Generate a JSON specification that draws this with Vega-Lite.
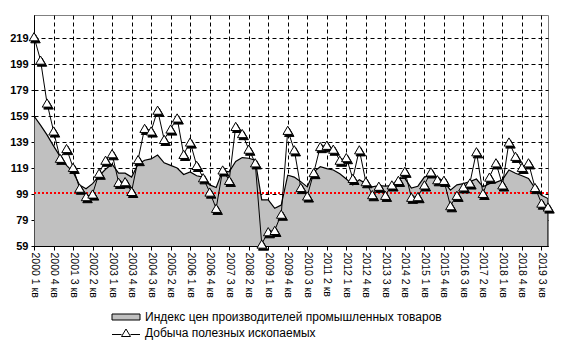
{
  "$schema": "https://vega.github.io/schema/vega-lite/v6.json",
  "width": 514,
  "height": 231,
  "autosize": {"type": "none"},
  "padding": {"left": 34, "top": 15, "right": 15, "bottom": 108},
  "background": "white",
  "config": {
    "view": {"stroke": "#808080", "strokeWidth": 1},
    "font": "Liberation Sans",
    "axis": {"labelFont": "Liberation Sans", "labelColor": "black", "domainColor": "black", "tickColor": "black", "gridColor": "black", "gridOpacity": 1, "gridDash": [4, 3], "gridWidth": 1, "title": null, "labelOverlap": false},
    "axisY": {"labelFontSize": 11, "labelFontWeight": "bold", "labelOverlap": false, "tickSize": 3, "labelPadding": 3, "labelSeparation": 0},
    "axisX": {"labelFontSize": 10.5, "labelOverlap": false, "labelPadding": 2, "tickSize": 4}
  },
  "data": {
    "values": [
      {"q": "2000 1 кв", "ppi": 159, "mining": 220},
      {"q": "2000 2 кв", "ppi": 152, "mining": 202},
      {"q": "2000 3 кв", "ppi": 144.5, "mining": 169},
      {"q": "2000 4 кв", "ppi": 136, "mining": 147.5},
      {"q": "2001 1 кв", "ppi": 128, "mining": 126.5},
      {"q": "2001 2 кв", "ppi": 121, "mining": 134},
      {"q": "2001 3 кв", "ppi": 116, "mining": 119.5},
      {"q": "2001 4 кв", "ppi": 106, "mining": 103.5},
      {"q": "2002 1 кв", "ppi": 103, "mining": 97},
      {"q": "2002 2 кв", "ppi": 107, "mining": 99},
      {"q": "2002 3 кв", "ppi": 113, "mining": 115},
      {"q": "2002 4 кв", "ppi": 118, "mining": 125},
      {"q": "2003 1 кв", "ppi": 122, "mining": 130},
      {"q": "2003 2 кв", "ppi": 115, "mining": 108},
      {"q": "2003 3 кв", "ppi": 115, "mining": 108.5},
      {"q": "2003 4 кв", "ppi": 112, "mining": 101},
      {"q": "2004 1 кв", "ppi": 122, "mining": 125.5},
      {"q": "2004 2 кв", "ppi": 125, "mining": 149.5},
      {"q": "2004 3 кв", "ppi": 126, "mining": 147.5},
      {"q": "2004 4 кв", "ppi": 129, "mining": 163.5},
      {"q": "2005 1 кв", "ppi": 123, "mining": 141},
      {"q": "2005 2 кв", "ppi": 121, "mining": 149},
      {"q": "2005 3 кв", "ppi": 119, "mining": 157.5},
      {"q": "2005 4 кв", "ppi": 114, "mining": 129.5},
      {"q": "2006 1 кв", "ppi": 116, "mining": 139},
      {"q": "2006 2 кв", "ppi": 113, "mining": 121},
      {"q": "2006 3 кв", "ppi": 112, "mining": 111.5},
      {"q": "2006 4 кв", "ppi": 106, "mining": 100.5},
      {"q": "2007 1 кв", "ppi": 104, "mining": 88},
      {"q": "2007 2 кв", "ppi": 117, "mining": 117.5},
      {"q": "2007 3 кв", "ppi": 116, "mining": 109.5},
      {"q": "2007 4 кв", "ppi": 124, "mining": 151},
      {"q": "2008 1 кв", "ppi": 127, "mining": 145.5},
      {"q": "2008 2 кв", "ppi": 126.5, "mining": 133.5},
      {"q": "2008 3 кв", "ppi": 125, "mining": 123},
      {"q": "2008 4 кв", "ppi": 94.5, "mining": 60.5},
      {"q": "2009 1 кв", "ppi": 94.5, "mining": 70},
      {"q": "2009 2 кв", "ppi": 88, "mining": 71},
      {"q": "2009 3 кв", "ppi": 90.5, "mining": 83.5},
      {"q": "2009 4 кв", "ppi": 113.5, "mining": 148},
      {"q": "2010 1 кв", "ppi": 112, "mining": 133},
      {"q": "2010 2 кв", "ppi": 108.5, "mining": 104},
      {"q": "2010 3 кв", "ppi": 104.5, "mining": 97.5},
      {"q": "2010 4 кв", "ppi": 116, "mining": 115.5},
      {"q": "2011 1 кв", "ppi": 120, "mining": 135.5},
      {"q": "2011 2 кв", "ppi": 118.5, "mining": 136.5},
      {"q": "2011 3 кв", "ppi": 117.5, "mining": 133.5},
      {"q": "2011 4 кв", "ppi": 114.5, "mining": 125},
      {"q": "2012 1 кв", "ppi": 110.5, "mining": 127},
      {"q": "2012 2 кв", "ppi": 106, "mining": 111},
      {"q": "2012 3 кв", "ppi": 110, "mining": 133},
      {"q": "2012 4 кв", "ppi": 107, "mining": 108.5},
      {"q": "2013 1 кв", "ppi": 104.5, "mining": 98.5},
      {"q": "2013 2 кв", "ppi": 105.5, "mining": 105},
      {"q": "2013 3 кв", "ppi": 105, "mining": 98},
      {"q": "2013 4 кв", "ppi": 105.5, "mining": 106},
      {"q": "2014 1 кв", "ppi": 111, "mining": 109.5},
      {"q": "2014 2 кв", "ppi": 111, "mining": 116.5},
      {"q": "2014 3 кв", "ppi": 103.5, "mining": 96.5},
      {"q": "2014 4 кв", "ppi": 105, "mining": 97},
      {"q": "2015 1 кв", "ppi": 112, "mining": 106},
      {"q": "2015 2 кв", "ppi": 113.5, "mining": 116},
      {"q": "2015 3 кв", "ppi": 112, "mining": 110},
      {"q": "2015 4 кв", "ppi": 108.5, "mining": 109.5},
      {"q": "2016 1 кв", "ppi": 102, "mining": 90},
      {"q": "2016 2 кв", "ppi": 106, "mining": 98},
      {"q": "2016 3 кв", "ppi": 107, "mining": 104.5},
      {"q": "2016 4 кв", "ppi": 108.5, "mining": 107.5},
      {"q": "2017 1 кв", "ppi": 110.5, "mining": 131.5},
      {"q": "2017 2 кв", "ppi": 104.5, "mining": 99.5},
      {"q": "2017 3 кв", "ppi": 107, "mining": 112},
      {"q": "2017 4 кв", "ppi": 108, "mining": 123},
      {"q": "2018 1 кв", "ppi": 110, "mining": 106},
      {"q": "2018 2 кв", "ppi": 117.5, "mining": 139},
      {"q": "2018 3 кв", "ppi": 115, "mining": 128},
      {"q": "2018 4 кв", "ppi": 113, "mining": 119.5},
      {"q": "2019 1 кв", "ppi": 111, "mining": 123},
      {"q": "2019 2 кв", "ppi": 103.5, "mining": 104},
      {"q": "2019 3 кв", "ppi": 98, "mining": 92},
      {"q": "2019 4 кв", "ppi": 95.5, "mining": 89}
    ]
  },
  "layer": [
    {
      "mark": {"type": "area", "stroke": "black", "strokeWidth": 1.2, "clip": true, "fillOpacity": 1},
      "encoding": {
        "x": {
          "field": "q", "type": "ordinal", "sort": null,
          "scale": {"type": "point", "padding": 0},
          "axis": {
            "values": ["2000 1 кв", "2000 4 кв", "2001 3 кв", "2002 2 кв", "2003 1 кв", "2003 4 кв", "2004 3 кв", "2005 2 кв", "2006 1 кв", "2006 4 кв", "2007 3 кв", "2008 2 кв", "2009 1 кв", "2009 4 кв", "2010 3 кв", "2011 2 кв", "2012 1 кв", "2012 4 кв", "2013 3 кв", "2014 2 кв", "2015 1 кв", "2015 4 кв", "2016 3 кв", "2017 2 кв", "2018 1 кв", "2018 4 кв", "2019 3 кв"],
            "labelAngle": 90, "grid": true, "labelOverlap": false
          }
        },
        "y": {
          "field": "ppi", "type": "quantitative",
          "scale": {"domain": [59, 236.7], "nice": false, "zero": false},
          "axis": {"values": [59, 79, 99, 119, 139, 159, 179, 199, 219], "tickCount": 50, "grid": true, "labelOverlap": false}
        },
        "fill": {
          "datum": "Индекс цен производителей промышленных товаров",
          "type": "nominal",
          "scale": {"range": ["#C0C0C0"]},
          "legend": {
            "orient": "none", "legendX": 86, "legendY": 296, "title": null,
            "labelFont": "Liberation Sans", "labelFontSize": 12, "labelColor": "black", "labelLimit": 500,
            "symbolSize": 100, "labelOffset": 13, "padding": 0,
            "symbolType": "M-2.8,-0.6H2.8V0.6H-2.8Z",
            "symbolStrokeColor": "black", "symbolStrokeWidth": 1, "symbolOpacity": 1
          }
        }
      }
    },
    {
      "mark": {"type": "rule", "color": "red", "strokeDash": [2, 2], "strokeWidth": 1},
      "encoding": {"y": {"datum": 100, "type": "quantitative"}}
    },
    {
      "mark": {"type": "line", "strokeWidth": 1},
      "encoding": {
        "x": {"field": "q", "type": "ordinal", "sort": null},
        "y": {"field": "mining", "type": "quantitative"},
        "stroke": {
          "datum": "Добыча полезных ископаемых",
          "type": "nominal",
          "scale": {"range": ["black"]},
          "legend": {
            "orient": "none", "legendX": 86, "legendY": 312, "title": null,
            "labelFont": "Liberation Sans", "labelFontSize": 12, "labelColor": "black", "labelLimit": 500,
            "symbolSize": 100, "labelOffset": 13, "padding": 0,
            "symbolType": "M-2.8,0.3H-0.9M0.9,0.3H2.8M-0.9,0.7L0,-0.8L0.9,0.7Z",
            "symbolStrokeWidth": 1, "symbolOpacity": 1
          }
        }
      }
    },
    {
      "mark": {"type": "point", "shape": "triangle-up", "filled": true, "fill": "black", "stroke": "black", "strokeWidth": 1, "size": 90, "opacity": 1, "xOffset": 1.5, "yOffset": 2},
      "encoding": {
        "x": {"field": "q", "type": "ordinal", "sort": null},
        "y": {"field": "mining", "type": "quantitative"}
      }
    },
    {
      "mark": {"type": "point", "shape": "triangle-up", "filled": true, "fill": "white", "stroke": "black", "strokeWidth": 1, "size": 90, "opacity": 1},
      "encoding": {
        "x": {"field": "q", "type": "ordinal", "sort": null},
        "y": {"field": "mining", "type": "quantitative"}
      }
    }
  ]
}
